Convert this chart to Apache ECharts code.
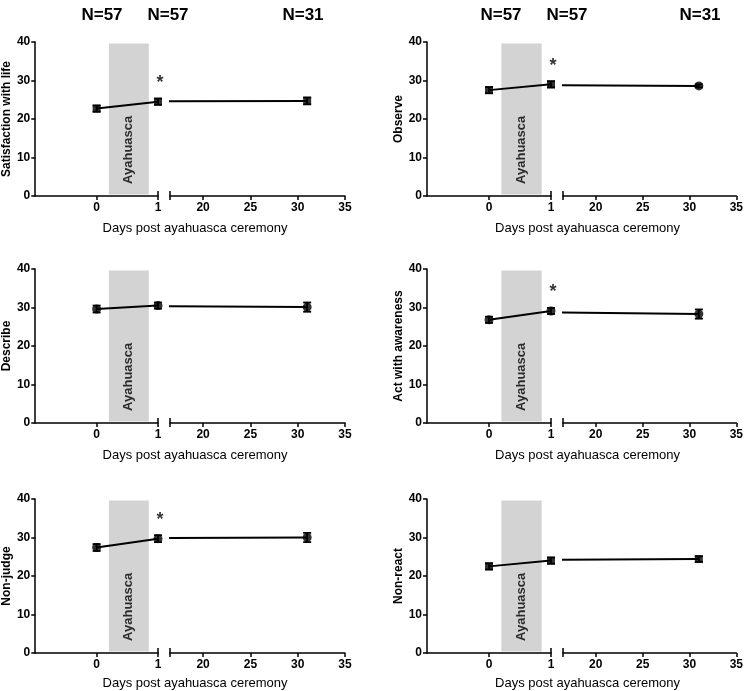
<!DOCTYPE html>
<html><head><meta charset="utf-8">
<script src="https://cdn.jsdelivr.net/npm/echarts@6/dist/echarts.min.js"></script>
<style>html,body{margin:0;padding:0;background:#fff}#c{width:746px;height:691px}</style>
</head><body><div id="c"></div>
<script>
// ---- data ----
const panelNames = ['Satisfaction with life', 'Observe', 'Describe', 'Act with awareness', 'Non-judge', 'Non-react'];
const days = [0, 1, 31];
const satisfactionMean = [22.7, 24.5, 24.7];
const satisfactionSem  = [0.8, 0.8, 0.9];
const observeMean = [27.5, 29.0, 28.6];
const observeSem  = [0.8, 0.8, 0.4];
const describeMean = [29.6, 30.5, 30.1];
const describeSem  = [0.9, 0.8, 1.2];
const actMean = [26.8, 29.1, 28.3];
const actSem  = [0.8, 0.8, 1.2];
const nonjudgeMean = [27.4, 29.7, 30.0];
const nonjudgeSem  = [0.9, 0.9, 1.2];
const nonreactMean = [22.5, 24.0, 24.4];
const nonreactSem  = [0.8, 0.8, 0.7];
const significantDay1 = [true, true, false, true, true, false];
const nLabels = ['N=57', 'N=57', 'N=31'];
const yTicks = [0, 10, 20, 30, 40];
const xLeftTicks = [0, 1];
const xRightTicks = [20, 25, 30, 35];
const ayahuascaStart = 0.2, ayahuascaEnd = 0.85;
const xTitle = 'Days post ayahuasca ceremony';

const means = [satisfactionMean, observeMean, describeMean, actMean, nonjudgeMean, nonreactMean];
const sems = [satisfactionSem, observeSem, describeSem, actSem, nonjudgeSem, nonreactSem];
const markerShapes = [
  ['rect', 'rect', 'rect'], ['rect', 'rect', 'circle'], ['circle', 'circle', 'circle'],
  ['circle', 'circle', 'circle'], ['circle', 'circle', 'circle'], ['rect', 'rect', 'rect']
];

// ---- layout ----
const FONT = 'Liberation Sans, Arial, sans-serif';
const colX = [35, 427];
const leftW = [123, 124];
const rightStart = [170, 563];
const rightW = 175;
const rowTop = [42, 269, 499];
const H = 154;
const leftMin = -1, leftMax = 1, rightMin = 16.5, rightMax = 35;

const grids = [], xAxes = [], yAxes = [], series = [], titles = [];

function errRender(params, api) {
  const x = api.value(0), m = api.value(1), s = api.value(2);
  const t = api.coord([x, m + s]), b = api.coord([x, m - s]);
  const w = 4, st = { stroke: '#000', lineWidth: 1.8 };
  return { type: 'group', children: [
    { type: 'line', shape: { x1: t[0], y1: t[1], x2: b[0], y2: b[1] }, style: st },
    { type: 'line', shape: { x1: t[0] - w, y1: t[1], x2: t[0] + w, y2: t[1] }, style: st },
    { type: 'line', shape: { x1: b[0] - w, y1: b[1], x2: b[0] + w, y2: b[1] }, style: st }
  ]};
}

for (let p = 0; p < 6; p++) {
  const col = p % 2, row = Math.floor(p / 2);
  const gL = grids.length;
  grids.push({ left: colX[col], top: rowTop[row], width: leftW[col], height: H });
  const gR = grids.length;
  grids.push({ left: rightStart[col], top: rowTop[row], width: rightW, height: H });

  const axisLineStyle = { color: '#000', width: 1.5 };
  const xL = xAxes.length;
  xAxes.push({ type: 'value', gridIndex: gL, min: leftMin, max: leftMax, position: 'bottom',
    axisLine: { show: true, onZero: false, lineStyle: axisLineStyle },
    axisTick: { show: true, length: 4, lineStyle: { color: '#000', width: 1.5 }, customValues: xLeftTicks },
    axisLabel: { show: true, customValues: xLeftTicks, color: '#000', fontFamily: FONT, fontSize: 12, fontWeight: 'bold', margin: 6 },
    splitLine: { show: false } });
  xAxes.push({ type: 'value', gridIndex: gL, min: leftMin, max: leftMax, position: 'bottom',
    axisLine: { show: false, onZero: false },
    axisTick: { show: true, inside: true, length: 5, lineStyle: { color: '#000', width: 1.5 }, customValues: [leftMax] },
    axisLabel: { show: false }, splitLine: { show: false } });
  const xR = xAxes.length;
  xAxes.push({ type: 'value', gridIndex: gR, min: rightMin, max: rightMax, position: 'bottom',
    axisLine: { show: true, onZero: false, lineStyle: axisLineStyle },
    axisTick: { show: true, length: 4, lineStyle: { color: '#000', width: 1.5 }, customValues: [rightMin].concat(xRightTicks) },
    axisLabel: { show: true, customValues: xRightTicks, color: '#000', fontFamily: FONT, fontSize: 12, fontWeight: 'bold', margin: 6 },
    splitLine: { show: false } });
  xAxes.push({ type: 'value', gridIndex: gR, min: rightMin, max: rightMax, position: 'bottom',
    axisLine: { show: false, onZero: false },
    axisTick: { show: true, inside: true, length: 5, lineStyle: { color: '#000', width: 1.5 }, customValues: [rightMin] },
    axisLabel: { show: false }, splitLine: { show: false } });

  const yL = yAxes.length;
  yAxes.push({ type: 'value', gridIndex: gL, min: yTicks[0], max: yTicks[yTicks.length - 1], interval: 10, position: 'left',
    name: panelNames[p], nameLocation: 'middle', nameGap: 20,
    nameTextStyle: { color: '#000', fontFamily: FONT, fontSize: 12, fontWeight: 'bold' },
    axisLine: { show: true, onZero: false, lineStyle: axisLineStyle },
    axisTick: { show: true, length: 4, lineStyle: { color: '#000', width: 1.5 } },
    axisLabel: { color: '#000', fontFamily: FONT, fontSize: 12, fontWeight: 'bold', margin: 5 },
    splitLine: { show: false } });
  const yR = yAxes.length;
  yAxes.push({ type: 'value', gridIndex: gR, min: yTicks[0], max: yTicks[yTicks.length - 1], interval: 10, show: false,
    axisLine: { onZero: false }, splitLine: { show: false } });

  const m = means[p], s = sems[p];
  series.push({ type: 'line', xAxisIndex: xL, yAxisIndex: yL, data: [[days[0], m[0]], [days[1], m[1]]],
    showSymbol: false, lineStyle: { color: '#000', width: 2 }, silent: true, z: 3,
    markArea: { silent: true, itemStyle: { color: '#d3d3d3' },
      data: [[{ coord: [ayahuascaStart, 0.4] }, { coord: [ayahuascaEnd, 39.6] }]] } });
  series.push({ type: 'scatter', xAxisIndex: xL, yAxisIndex: yL, data: [[(ayahuascaStart + ayahuascaEnd) / 2, 12]],
    symbolSize: 0, silent: true, z: 4,
    label: { show: true, position: 'inside', rotate: 90, formatter: 'Ayahuasca', color: '#000', fontFamily: FONT, fontSize: 13, fontWeight: 'bold' } });
  series.push({ type: 'line', xAxisIndex: xR, yAxisIndex: yR, data: [[days[1], m[1]], [days[2], m[2]]],
    showSymbol: false, lineStyle: { color: '#000', width: 2 }, clip: true, silent: true, z: 3 });
  series.push({ type: 'custom', xAxisIndex: xL, yAxisIndex: yL, renderItem: errRender, clip: false, z: 5,
    data: [[days[0], m[0], s[0]], [days[1], m[1], s[1]]], encode: { x: 0, y: 1 } });
  series.push({ type: 'custom', xAxisIndex: xR, yAxisIndex: yR, renderItem: errRender, clip: false, z: 5,
    data: [[days[2], m[2], s[2]]], encode: { x: 0, y: 1 } });
  series.push({ type: 'scatter', xAxisIndex: xL, yAxisIndex: yL, clip: false, z: 6, silent: true,
    data: [0, 1].map(i => ({ value: [days[i], m[i]], symbol: markerShapes[p][i], symbolSize: markerShapes[p][i] === 'rect' ? 8 : 9 })),
    itemStyle: { color: '#000' } });
  series.push({ type: 'scatter', xAxisIndex: xR, yAxisIndex: yR, clip: false, z: 6, silent: true,
    data: [{ value: [days[2], m[2]], symbol: markerShapes[p][2], symbolSize: markerShapes[p][2] === 'rect' ? 8 : 9 }],
    itemStyle: { color: '#000' } });
  if (significantDay1[p]) {
    series.push({ type: 'scatter', xAxisIndex: xL, yAxisIndex: yL, clip: false, z: 6, silent: true,
      data: [[days[1], m[1] + s[1] + 4]], symbolSize: 0,
      label: { show: true, position: 'inside', formatter: '*', color: '#000', fontFamily: FONT, fontSize: 18, fontWeight: 'bold', offset: [2, 0] } });
  }
  titles.push({ text: xTitle, left: (colX[col] + rightStart[col] + rightW) / 2, top: rowTop[row] + H + (row === 2 ? 19 : 21),
    textAlign: 'center', textStyle: { color: '#000', fontFamily: FONT, fontSize: 13, fontWeight: 'normal' } });
}

const nPos = [[97, 163, 298], [496, 562, 695]];
for (let c = 0; c < 2; c++) for (let i = 0; i < 3; i++) {
  titles.push({ text: nLabels[i], left: nPos[c][i], top: 2, textAlign: 'center',
    textStyle: { color: '#000', fontFamily: FONT, fontSize: 17, fontWeight: 'bold' } });
}

const chart = echarts.init(document.getElementById('c'), null, { renderer: 'canvas' });
chart.setOption({ animation: false, backgroundColor: '#fff', title: titles, grid: grids, xAxis: xAxes, yAxis: yAxes, series: series });
</script></body></html>
